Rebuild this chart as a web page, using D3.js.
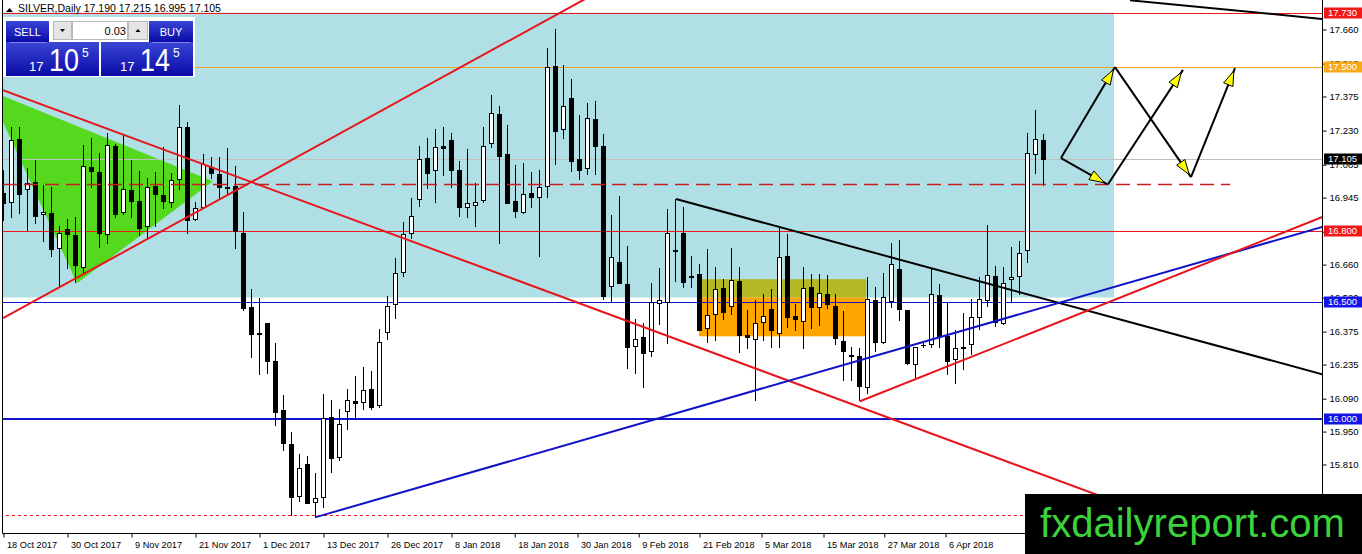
<!DOCTYPE html>
<html>
<head>
<meta charset="utf-8">
<script src="https://cdnjs.cloudflare.com/ajax/libs/d3/7.8.5/d3.min.js"></script>
<style>
  body { margin: 0; background: #fff; }
  svg { display: block; }
  text { font-family: "Liberation Sans", Arial, sans-serif; }
</style>
</head>
<body>
<div id="chart"></div>
<script>
// SILVER daily bars, bar 0 = 18 Oct 2017
let opens = [16.962,16.924,17.192,16.979,17.009,16.873,16.877,16.728,16.809,16.783,
  16.647,17.073,17.052,16.788,17.162,16.881,16.975,16.928,16.822,16.992,
  16.954,16.924,17.022,17.243,16.851,16.902,17.073,17.043,16.988,16.992,
  16.792,16.477,16.369,16.409,16.247,16.039,15.894,15.673,15.809,15.647,
  15.669,16.009,15.839,16.034,16.077,16.073,16.128,16.060,16.370,16.490,
  16.626,16.792,16.937,17.111,17.060,17.162,17.188,17.060,16.902,16.911,
  16.932,17.175,17.298,17.128,16.928,16.881,16.962,16.945,16.992,17.503,
  17.235,17.366,17.107,17.069,17.277,17.162,16.566,16.669,16.575,16.311,
  16.349,16.290,16.494,16.498,16.720,16.792,16.609,16.618,16.388,16.447,
  16.558,16.481,16.588,16.358,16.341,16.413,16.468,16.366,16.694,16.439,
  16.417,16.562,16.477,16.532,16.481,16.332,16.273,16.269,16.137,16.507,
  16.328,16.503,16.639,16.464,16.234,16.315,16.320,16.528,16.354,16.256,
  16.307,16.320,16.434,16.507,16.609,16.409,16.596,16.609,16.720,17.128,17.190]
let highs = [17.060,17.243,17.243,17.069,17.103,16.996,16.988,16.822,16.851,16.860,
  17.166,17.196,17.132,17.217,17.171,17.209,17.103,17.056,17.026,17.052,
  17.158,17.047,17.337,17.264,16.924,17.128,17.115,17.115,17.154,17.077,
  16.881,16.554,16.515,16.409,16.324,16.102,15.945,15.852,15.843,15.771,
  16.107,16.081,16.043,16.128,16.184,16.222,16.205,16.383,16.524,16.686,
  16.839,16.941,17.162,17.196,17.235,17.243,17.217,17.098,17.149,17.004,
  17.243,17.379,17.332,17.252,17.081,17.090,17.052,17.060,17.579,17.660,
  17.507,17.447,17.294,17.345,17.354,17.213,16.868,16.949,16.737,16.426,
  16.409,16.579,16.643,16.894,16.937,16.902,16.694,16.660,16.724,16.647,
  16.596,16.728,16.647,16.464,16.507,16.532,16.554,16.813,16.788,16.490,
  16.647,16.618,16.618,16.613,16.532,16.460,16.307,16.303,16.605,16.562,
  16.622,16.749,16.762,16.464,16.307,16.324,16.639,16.575,16.494,16.379,
  16.451,16.511,16.605,16.826,16.652,16.647,16.732,16.758,17.217,17.315,17.215]
let lows = [16.847,16.860,16.877,16.805,16.834,16.758,16.694,16.562,16.643,16.583,
  16.622,16.988,16.732,16.749,16.860,16.873,16.860,16.783,16.775,16.822,
  16.898,16.902,16.979,16.792,16.847,16.898,17.026,16.941,16.954,16.728,
  16.464,16.264,16.192,16.196,15.975,15.869,15.592,15.652,15.643,15.583,
  15.626,15.775,15.826,15.958,16.000,16.043,16.043,16.051,16.341,16.430,
  16.609,16.771,16.907,16.983,16.924,17.039,16.988,16.864,16.860,16.822,
  16.924,17.158,16.749,16.919,16.860,16.877,16.902,16.694,16.945,17.086,
  17.196,17.056,17.022,17.043,17.043,16.511,16.503,16.579,16.217,16.196,
  16.137,16.268,16.405,16.324,16.588,16.562,16.562,16.379,16.328,16.337,
  16.426,16.447,16.285,16.302,16.081,16.337,16.307,16.307,16.392,16.379,
  16.302,16.388,16.400,16.473,16.320,16.166,16.166,16.081,16.111,16.290,
  16.324,16.477,16.422,16.234,16.179,16.307,16.307,16.307,16.192,16.154,
  16.213,16.277,16.383,16.481,16.396,16.405,16.498,16.532,16.669,17.047,16.995]
let closes = [16.919,17.188,16.958,17.004,16.864,16.881,16.724,16.792,16.788,16.656,
  17.077,17.056,16.792,17.166,16.873,16.979,16.928,16.813,16.988,16.958,
  16.928,17.017,17.243,16.847,16.898,17.086,17.047,16.988,16.983,16.800,
  16.473,16.362,16.364,16.247,16.030,15.898,15.669,15.792,15.643,15.664,
  16.005,15.835,15.979,16.081,16.068,16.124,16.051,16.328,16.481,16.622,
  16.788,16.864,17.107,17.047,17.158,17.154,17.060,16.902,16.919,16.924,
  17.162,17.303,17.120,16.919,16.885,16.958,16.945,16.988,17.498,17.226,
  17.332,17.098,17.060,17.281,17.162,16.524,16.690,16.579,16.307,16.341,
  16.281,16.498,16.507,16.792,16.715,16.583,16.605,16.379,16.443,16.554,
  16.456,16.592,16.358,16.349,16.409,16.439,16.379,16.690,16.434,16.426,
  16.558,16.477,16.537,16.490,16.345,16.290,16.269,16.141,16.511,16.328,
  16.520,16.660,16.468,16.239,16.307,16.315,16.532,16.354,16.247,16.303,
  16.303,16.434,16.511,16.613,16.413,16.579,16.605,16.707,17.132,17.192,17.105]

let dateLabels = ["18 Oct 2017","30 Oct 2017","9 Nov 2017","21 Nov 2017","1 Dec 2017",
  "13 Dec 2017","26 Dec 2017","8 Jan 2018","18 Jan 2018","30 Jan 2018","9 Feb 2018",
  "21 Feb 2018","5 Mar 2018","15 Mar 2018","27 Mar 2018","6 Apr 2018"]
let dateLabelBars = [0,8,16,24,32,40,48,56,63.9,71.75,79.4,87,94.75,102.5,110.1,117.75]

let priceTicks = [17.660,17.515,17.375,17.230,17.085,16.945,16.800,16.660,16.520,
  16.375,16.235,16.090,15.950,15.810,15.670]

// horizontal levels that carry a price tag on the axis
let tagPrices = [17.730, 17.500, 17.105, 16.800, 16.500, 16.000]
let dashedLevel = [[0, 17.000], [153.4, 17.000]]
let dottedLevel = 15.595

// zones
let blueZoneBars = [-5, 138.875]
let blueZonePrices = [17.730, 16.518]
let boxBars = [87, 107.9]
let oliveBoxPrices = [16.596, 16.518]
let orangeBoxPrices = [16.518, 16.353]
let greenWedge = [[0, 17.375], [26.25, 17.013], [9.25, 16.579], [0, 17.264]]

// trend lines (rays to the right)
let redRise = [[0, 16.430], [71.875, 17.771]]
let redFall = [[0, 17.400], [135.875, 15.690]]
let blackTop = [[140.875, 17.782], [164.875, 17.703]]
let blackFall = [[84.125, 16.937], [164.875, 16.192]]
let blueRise = [[39, 15.583], [164.875, 16.818]]
let redRise2 = [[107.125, 16.077], [164.875, 16.860]]

// projected path arrows
let arrowPaths = [
  [[132.25, 17.111], [139, 17.498]],
  [[132.25, 17.111], [138, 17.000]],
  [[139, 17.498], [148.5, 17.030]],
  [[138.125, 17.000], [147.5, 17.486]],
  [[148.5, 17.030], [154, 17.494]]
]

let title = "SILVER,Daily  17.190 17.215 16.995 17.105"
let lotSize = "0.03"
let bidParts = ["17", "10", "5"]
let askParts = ["17", "14", "5"]
let watermark = "fxdailyreport.com"

let width = 1362
let height = 554
let plotRight = 1322
let plotBottom = 533

let red = "#e8161c"
let blue = "#1212c8"

let svg = d3.select("#chart")
  .append("svg")
  .attr("width", width)
  .attr("height", height)

let defs = svg.append("defs")
defs.append("clipPath").attr("id", "plot")
  .append("rect").attr("x", 3).attr("y", 0)
  .attr("width", plotRight - 3).attr("height", plotBottom)
let grad = defs.append("linearGradient").attr("id", "btn")
  .attr("x1", 0).attr("y1", 0).attr("x2", 0).attr("y2", 1)
grad.append("stop").attr("offset", "0%").attr("stop-color", "#3a46d6")
grad.append("stop").attr("offset", "100%").attr("stop-color", "#0a0aa6")

let x = d3.scaleLinear().domain([0, 164.875]).range([3, 1322])
let y = d3.scaleLinear().domain([17.66, 15.81]).range([29, 464])

let px = i => Math.round(x(i)) + 0.5
let py = p => Math.round(y(p)) + 0.5

let plot = svg.append("g").attr("clip-path", "url(#plot)")

// zones
plot.append("rect")
  .attr("x", x(blueZoneBars[0])).attr("y", y(blueZonePrices[0]))
  .attr("width", x(blueZoneBars[1]) - x(blueZoneBars[0]))
  .attr("height", y(blueZonePrices[1]) - y(blueZonePrices[0]))
  .attr("fill", "#b0e0e6")

plot.append("polygon")
  .attr("points", greenWedge.map(d => [x(d[0]), y(d[1])].join(",")).join(" "))
  .attr("fill", "#55d91e")

plot.append("rect")
  .attr("x", x(boxBars[0])).attr("y", y(oliveBoxPrices[0]))
  .attr("width", x(boxBars[1]) - x(boxBars[0]))
  .attr("height", y(oliveBoxPrices[1]) - y(oliveBoxPrices[0]))
  .attr("fill", "#b3b824")
plot.append("rect")
  .attr("x", x(boxBars[0])).attr("y", y(orangeBoxPrices[0]))
  .attr("width", x(boxBars[1]) - x(boxBars[0]))
  .attr("height", y(orangeBoxPrices[1]) - y(orangeBoxPrices[0]))
  .attr("fill", "#ffa500")

// horizontal levels
let levelColors = ["#f01818", "#f2a51a", "#c0c0c0", "#f01818", blue, blue]
let levelWidths = [1, 1, 1, 1, 1.2, 2]
plot.selectAll("line.level")
  .data(tagPrices)
  .enter()
  .append("line")
  .attr("class", "level")
  .attr("x1", 0).attr("x2", plotRight)
  .attr("y1", (d, i) => levelWidths[i] == 2 ? Math.round(y(d)) : py(d))
  .attr("y2", (d, i) => levelWidths[i] == 2 ? Math.round(y(d)) : py(d))
  .attr("stroke", (d, i) => levelColors[i])
  .attr("stroke-width", (d, i) => levelWidths[i])

plot.append("line")
  .attr("x1", 0).attr("x2", plotRight)
  .attr("y1", py(dottedLevel)).attr("y2", py(dottedLevel))
  .attr("stroke", "#f01818").attr("stroke-dasharray", "3,3")

// candles
let bars = d3.range(opens.length)
let bodyTop = i => Math.round(y(Math.max(opens[i], closes[i])))
let bodyBottom = i => Math.round(y(Math.min(opens[i], closes[i])))

plot.selectAll("line.wick")
  .data(bars)
  .enter()
  .append("line")
  .attr("class", "wick")
  .attr("x1", px).attr("x2", px)
  .attr("y1", i => Math.round(y(highs[i])))
  .attr("y2", i => Math.round(y(lows[i])) + 1)
  .attr("stroke", "#000")

plot.selectAll("rect.body")
  .data(bars.filter(i => bodyBottom(i) - bodyTop(i) >= 1))
  .enter()
  .append("rect")
  .attr("class", "body")
  .attr("x", i => px(i) - 2)
  .attr("y", i => bodyTop(i) + 0.5)
  .attr("width", 4)
  .attr("height", i => bodyBottom(i) - bodyTop(i))
  .attr("fill", i => closes[i] >= opens[i] ? "#fff" : "#000")
  .attr("stroke", "#000")

plot.selectAll("line.doji")
  .data(bars.filter(i => bodyBottom(i) - bodyTop(i) < 1))
  .enter()
  .append("line")
  .attr("class", "doji")
  .attr("x1", i => px(i) - 2.5).attr("x2", i => px(i) + 2.5)
  .attr("y1", i => bodyTop(i) + 0.5).attr("y2", i => bodyTop(i) + 0.5)
  .attr("stroke", "#000")

// trend lines
function ray(pts) {
  let a = pts[0], b = pts[1]
  let slope = (b[1] - a[1]) / (b[0] - a[0])
  let end = 175
  return [[x(a[0]), y(a[1])], [x(end), y(a[1] + slope * (end - a[0]))]]
}
let trendLines = [redRise, redFall, blackTop, blackFall, blueRise, redRise2]
let trendColors = [red, red, "#000", "#000", blue, red]

plot.selectAll("line.trend")
  .data(trendLines)
  .enter()
  .append("line")
  .attr("class", "trend")
  .attr("x1", d => ray(d)[0][0]).attr("y1", d => ray(d)[0][1])
  .attr("x2", d => ray(d)[1][0]).attr("y2", d => ray(d)[1][1])
  .attr("stroke", (d, i) => trendColors[i])
  .attr("stroke-width", 2)

plot.append("line")
  .attr("x1", x(dashedLevel[0][0])).attr("x2", x(dashedLevel[1][0]))
  .attr("y1", py(dashedLevel[0][1])).attr("y2", py(dashedLevel[1][1]))
  .attr("stroke", "#c81e1e").attr("stroke-width", 1.3)
  .attr("stroke-dasharray", "14,7")

// arrows
function head(d) {
  let x0 = x(d[0][0]), y0 = y(d[0][1]), x1 = x(d[1][0]), y1 = y(d[1][1])
  let a = Math.atan2(y1 - y0, x1 - x0)
  let c = Math.cos(a), s = Math.sin(a)
  let tx = x1 - 3 * c, ty = y1 - 3 * s
  let bx = tx - 15 * c, by = ty - 15 * s
  return [[tx, ty], [bx - 5 * s, by + 5 * c], [bx + 5 * s, by - 5 * c]]
}
plot.selectAll("line.arrow")
  .data(arrowPaths)
  .enter()
  .append("line")
  .attr("class", "arrow")
  .attr("x1", d => x(d[0][0])).attr("y1", d => y(d[0][1]))
  .attr("x2", d => x(d[1][0])).attr("y2", d => y(d[1][1]))
  .attr("stroke", "#000").attr("stroke-width", 2)
plot.selectAll("polygon.head")
  .data(arrowPaths)
  .enter()
  .append("polygon")
  .attr("class", "head")
  .attr("points", d => head(d).map(p => p.join(",")).join(" "))
  .attr("fill", "#ffff00").attr("stroke", "#000").attr("stroke-width", 1)

// frame
svg.append("line").attr("x1", 2.5).attr("x2", 2.5).attr("y1", 0).attr("y2", plotBottom + 0.5)
  .attr("stroke", "#000")
svg.append("line").attr("x1", 2.5).attr("x2", plotRight + 0.5)
  .attr("y1", plotBottom + 0.5).attr("y2", plotBottom + 0.5).attr("stroke", "#000")
svg.append("line").attr("x1", plotRight + 0.5).attr("x2", plotRight + 0.5)
  .attr("y1", 0).attr("y2", plotBottom + 0.5).attr("stroke", "#000")

// price axis
let yAxis = d3.axisRight(y)
  .tickValues(priceTicks)
  .tickSize(4)
  .tickPadding(3)
  .tickFormat(d3.format(".3f"))
let ga = svg.append("g")
  .attr("transform", `translate(${plotRight + 0.5},0.5)`)
  .call(yAxis)
ga.select(".domain").remove()
ga.selectAll("text").attr("font-size", 9.5).attr("fill", "#000")
  .attr("font-family", "Liberation Sans, Arial, sans-serif")

// time axis
let xAxis = d3.axisBottom(x)
  .tickValues(dateLabelBars)
  .tickSize(4)
  .tickFormat((d, i) => dateLabels[i])
let gx = svg.append("g")
  .attr("transform", `translate(0.5,${plotBottom + 0.5})`)
  .call(xAxis)
gx.select(".domain").remove()
gx.selectAll("text").attr("font-size", 9.2).attr("text-anchor", "start")
  .attr("x", 3).attr("y", 8).attr("fill", "#000")
  .attr("font-family", "Liberation Sans, Arial, sans-serif")

// price tags (drawn over the axis labels they hide)
let tagColors = ["#f01818", "#f7a81b", "#000", "#f01818", "#1414e6", "#1414e6"]
let tags = svg.selectAll("g.tag")
  .data(tagPrices)
  .enter()
  .append("g")
  .attr("class", "tag")
  .attr("transform", d => `translate(${plotRight + 2},${Math.round(y(d))})`)
tags.append("rect")
  .attr("x", 0).attr("y", -5.5).attr("width", 38).attr("height", 11)
  .attr("fill", (d, i) => tagColors[i])
tags.append("text")
  .attr("x", 4).attr("y", 0).attr("dy", "0.35em")
  .attr("font-size", 9.5).attr("fill", "#fff")
  .text(d => d3.format(".3f")(d))

// title
svg.append("path").attr("d", "M6,12 L9.5,8 L13,12 Z").attr("fill", "#000")
svg.append("text").attr("x", 18).attr("y", 12)
  .attr("font-size", 10.5).attr("fill", "#000").text(title)

// one-click trading panel
let panel = svg.append("g")
panel.append("rect").attr("x", 3).attr("y", 17).attr("width", 192).attr("height", 60)
  .attr("fill", "#fff")
panel.append("rect").attr("x", 6).attr("y", 21).attr("width", 43).attr("height", 21)
  .attr("fill", "url(#btn)")
panel.append("rect").attr("x", 149).attr("y", 21).attr("width", 44).attr("height", 21)
  .attr("fill", "url(#btn)")
panel.append("rect").attr("x", 6).attr("y", 42).attr("width", 93).attr("height", 34)
  .attr("fill", "url(#btn)")
panel.append("rect").attr("x", 101).attr("y", 42).attr("width", 92).attr("height", 34)
  .attr("fill", "url(#btn)")
panel.append("line").attr("x1", 10).attr("x2", 47).attr("y1", 42.5).attr("y2", 42.5)
  .attr("stroke", "#7c86e8")
panel.append("line").attr("x1", 152).attr("x2", 190).attr("y1", 42.5).attr("y2", 42.5)
  .attr("stroke", "#7c86e8")
panel.append("text").attr("x", 27.5).attr("y", 35.5).attr("text-anchor", "middle")
  .attr("font-size", 11).attr("fill", "#fff").text("SELL")
panel.append("text").attr("x", 171).attr("y", 35.5).attr("text-anchor", "middle")
  .attr("font-size", 11).attr("fill", "#fff").text("BUY")

panel.append("rect").attr("x", 53.5).attr("y", 21.5).attr("width", 18).attr("height", 18)
  .attr("fill", "#e4e4e4").attr("stroke", "#b8b8b8")
panel.append("rect").attr("x", 72.5).attr("y", 21.5).attr("width", 55).attr("height", 18)
  .attr("fill", "#fff").attr("stroke", "#b8b8b8")
panel.append("rect").attr("x", 128.5).attr("y", 21.5).attr("width", 19).attr("height", 18)
  .attr("fill", "#e4e4e4").attr("stroke", "#b8b8b8")
panel.append("path").attr("d", "M60,29 L65,29 L62.5,32 Z").attr("fill", "#000")
panel.append("path").attr("d", "M135.5,32 L140.5,32 L138,29 Z").attr("fill", "#000")
panel.append("text").attr("x", 126).attr("y", 35).attr("text-anchor", "end")
  .attr("font-size", 11).attr("fill", "#000").text(lotSize)

function quote(parts, x0) {
  panel.append("text").attr("x", x0).attr("y", 71)
    .attr("font-size", 13).attr("fill", "#fff").text(parts[0])
  panel.append("text").attr("x", x0 + 20).attr("y", 71)
    .attr("font-size", 32).attr("fill", "#fff")
    .attr("textLength", 30).attr("lengthAdjust", "spacingAndGlyphs").text(parts[1])
  panel.append("text").attr("x", x0 + 53).attr("y", 57)
    .attr("font-size", 12).attr("fill", "#fff").text(parts[2])
}
quote(bidParts, 29)
quote(askParts, 120)

// watermark
svg.append("rect").attr("x", 1025).attr("y", 494).attr("width", 337).attr("height", 60)
  .attr("fill", "#000")
svg.append("text").attr("x", 1040).attr("y", 537)
  .attr("font-size", 40).attr("fill", "#3cd23c")
  .attr("textLength", 305).attr("lengthAdjust", "spacingAndGlyphs")
  .text(watermark)
</script>
</body>
</html>
